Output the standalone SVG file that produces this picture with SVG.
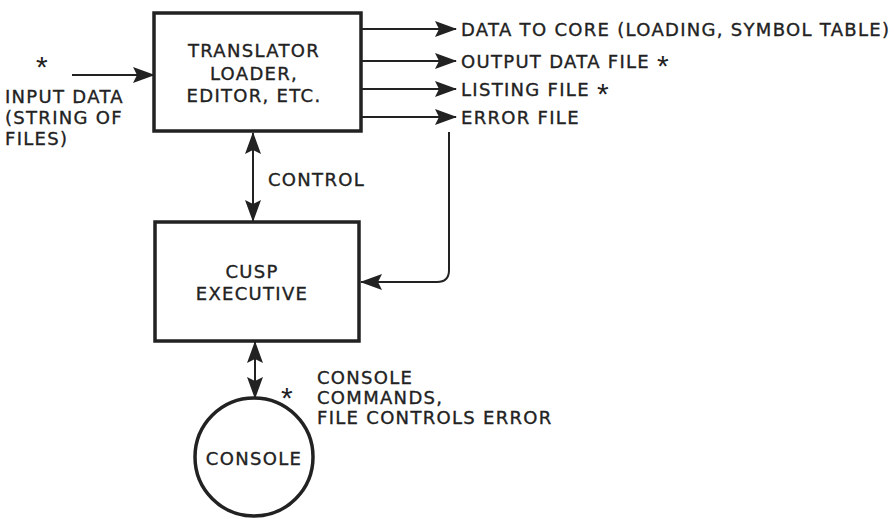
<svg xmlns="http://www.w3.org/2000/svg" width="894" height="519" viewBox="0 0 894 519">
<style>
text{font-family:"DejaVu Sans","Liberation Sans",sans-serif;font-size:18px;fill:#222;stroke:#222;stroke-width:0.35;letter-spacing:1.3px}
.box{fill:none;stroke:#222;stroke-width:3.5}
.ln{fill:none;stroke:#222;stroke-width:2}
.mid{text-anchor:middle}
.ast{font-family:"Liberation Sans",sans-serif;font-size:30px;stroke-width:0}
</style>
<defs>
<marker id="ah" markerUnits="userSpaceOnUse" markerWidth="22" markerHeight="16" refX="21" refY="8" orient="auto-start-reverse">
<path d="M0,0 L22,8 L0,16 L4,8 Z" fill="#222"/>
</marker>
</defs>
<rect width="894" height="519" fill="#fff"/>
<g id="connectors">
<line class="ln" x1="72" y1="75" x2="154" y2="75" marker-end="url(#ah)"/>
<line class="ln" x1="361" y1="29" x2="456" y2="29" marker-end="url(#ah)"/>
<line class="ln" x1="361" y1="61" x2="456" y2="61" marker-end="url(#ah)"/>
<line class="ln" x1="361" y1="89" x2="456" y2="89" marker-end="url(#ah)"/>
<line class="ln" x1="361" y1="117" x2="456" y2="117" marker-end="url(#ah)"/>
<path class="ln" d="M449,132 V270 Q449,282 437,282 H361" marker-end="url(#ah)"/>
<line class="ln" x1="253" y1="133" x2="253" y2="221" marker-start="url(#ah)" marker-end="url(#ah)"/>
<line class="ln" x1="255" y1="342" x2="255" y2="398" marker-start="url(#ah)" marker-end="url(#ah)"/>
</g>
<g id="translator">
<rect class="box" x="154" y="13" width="207" height="118"/>
<text class="mid" x="254" y="57">TRANSLATOR</text>
<text class="mid" x="254" y="80">LOADER,</text>
<text class="mid" x="254" y="102">EDITOR, ETC.</text>
</g>
<g id="cusp">
<rect class="box" x="155" y="222" width="204" height="119"/>
<text class="mid" x="252" y="278">CUSP</text>
<text class="mid" x="252" y="300">EXECUTIVE</text>
</g>
<g id="console">
<circle class="box" cx="254" cy="457" r="59"/>
<text class="mid" x="254" y="465">CONSOLE</text>
</g>
<g id="labels">
<text class="ast" x="36" y="77">*</text>
<text x="5" y="103">INPUT DATA</text>
<text x="5" y="124">(STRING OF</text>
<text x="5" y="145">FILES)</text>
<text x="268" y="186">CONTROL</text>
<text x="461" y="36">DATA TO CORE (LOADING, SYMBOL TABLE)</text>
<text x="461" y="68">OUTPUT DATA FILE <tspan class="ast" font-size="24" dy="8">*</tspan></text>
<text x="461" y="96">LISTING FILE <tspan class="ast" font-size="24" dy="8">*</tspan></text>
<text x="461" y="124">ERROR FILE</text>
<text x="317" y="384">CONSOLE</text>
<text class="ast" x="281" y="408">*</text>
<text x="317" y="404">COMMANDS,</text>
<text x="317" y="424">FILE CONTROLS ERROR</text>
</g>
</svg>
